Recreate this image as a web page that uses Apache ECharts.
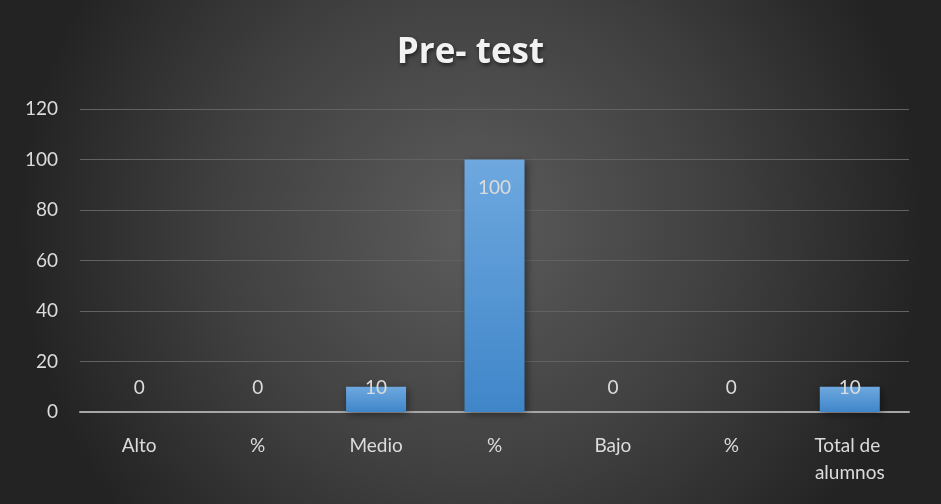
<!DOCTYPE html>
<html><head><meta charset="utf-8">
<script src="https://cdn.jsdelivr.net/npm/echarts@6/dist/echarts.min.js"></script>
<style>html,body{margin:0;padding:0;background:#333}#c{width:941px;height:504px}</style>
</head><body><div id="c"></div>
<script>
const titleText = 'Pre- test';
const categories = ['Alto', '%', 'Medio', '%', 'Bajo', '%', 'Total de alumnos'];
const values = [0, 0, 10, 100, 0, 0, 10];
const yTicks = {min: 0, max: 120, interval: 20};

const chart = echarts.init(document.getElementById('c'));
const font = 'Lato, "Open Sans", sans-serif';
chart.setOption({
  backgroundColor: {type: 'radial', x: 0.5, y: 0.45, r: 0.9,
    colorStops: [{offset: 0, color: '#5c5c5c'}, {offset: 0.55, color: '#404040'}, {offset: 1, color: '#232323'}]},
  title: {text: titleText, left: 'center', top: 31,
    textStyle: {color: '#f2f2f2', fontSize: 35, fontWeight: 'bold', fontFamily: '"Open Sans", sans-serif',
      textShadowColor: 'rgba(0,0,0,0.6)', textShadowBlur: 4, textShadowOffsetX: 1, textShadowOffsetY: 2}},
  grid: {left: 80, right: 32, top: 109, bottom: 92},
  xAxis: {type: 'category', data: categories,
    axisLine: {lineStyle: {color: '#a6a6a6', width: 2}},
    axisTick: {show: false},
    axisLabel: {color: '#dcdcdc', fontSize: 19, fontFamily: font, margin: 20, lineHeight: 27,
      width: 105, overflow: 'break', interval: 0}},
  yAxis: {type: 'value', min: yTicks.min, max: yTicks.max, interval: yTicks.interval,
    axisLine: {show: false}, axisTick: {show: false},
    axisLabel: {color: '#dcdcdc', fontSize: 19, fontFamily: font, margin: 22},
    splitLine: {lineStyle: {color: '#626262', width: 1}}},
  series: [{type: 'bar', barWidth: 60,
    data: values.map(v => ({value: v,
      label: v >= 50 ? {position: 'insideTop', distance: 19} : {position: 'insideBottom', distance: 15}})),
    itemStyle: {color: {type: 'linear', x: 0, y: 0, x2: 0, y2: 1,
      colorStops: [{offset: 0, color: '#6ea8df'}, {offset: 1, color: '#3f86c9'}]},
      shadowColor: 'rgba(0,0,0,0.45)', shadowBlur: 8, shadowOffsetX: 2, shadowOffsetY: 2},
    label: {show: true, color: '#dcdcdc', fontSize: 19, fontFamily: font}
  }]
});
</script></body></html>
